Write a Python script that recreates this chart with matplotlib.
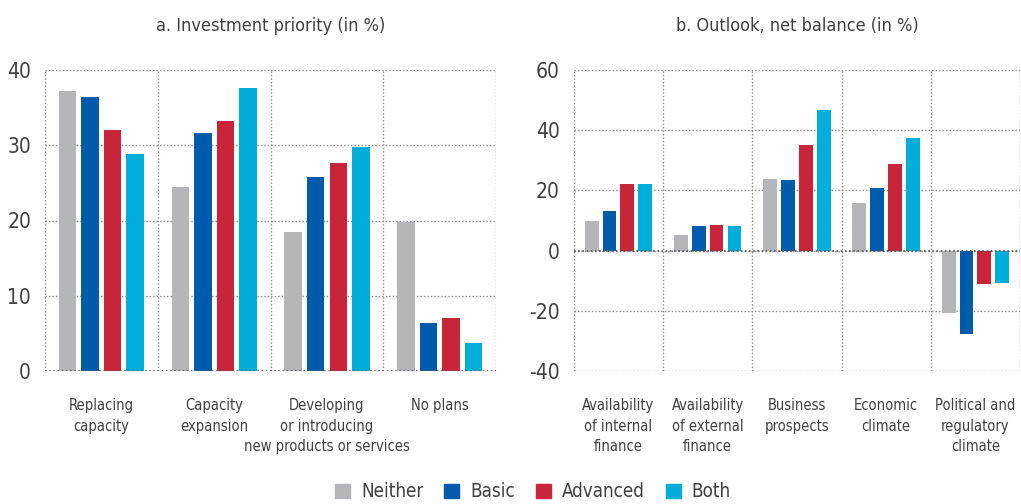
import matplotlib
matplotlib.use('Agg')
import matplotlib.pyplot as plt
from matplotlib.patches import Patch
import numpy as np

plt.rcParams['font.family'] = ['DejaVu Sans']
plt.rcParams['font.stretch'] = 'condensed'
plt.rcParams['axes.unicode_minus'] = False

series = ['Neither', 'Basic', 'Advanced', 'Both']
colors = ['#B5B6BA', '#005BAC', '#C8243A', '#00AED9']

# panel a
cats_a = ['Replacing\ncapacity', 'Capacity\nexpansion',
          'Developing\nor introducing\nnew products or services', 'No plans']
neither_a = [37.3, 24.5, 18.5, 19.8]
basic_a = [36.4, 31.6, 25.8, 6.4]
advanced_a = [32.1, 33.2, 27.7, 7.0]
both_a = [28.8, 37.7, 29.8, 3.7]

# panel b
cats_b = ['Availability\nof internal\nfinance', 'Availability\nof external\nfinance',
          'Business\nprospects', 'Economic\nclimate', 'Political and\nregulatory\nclimate']
neither_b = [9.8, 5.1, 23.8, 15.8, -20.9]
basic_b = [13.1, 8.1, 23.4, 20.8, -27.9]
advanced_b = [22.1, 8.4, 35.1, 28.8, -11.2]
both_b = [22.1, 8.1, 46.8, 37.4, -10.9]

txt = '#404040'
gridc = '#8a8a8a'

fig = plt.figure(figsize=(10.21, 5.04), dpi=100)
ax1 = fig.add_axes([0.044, 0.2645, 0.442, 0.596])
ax2 = fig.add_axes([0.562, 0.2645, 0.437, 0.596])


def draw(ax, cats, vals, ylim, yticks, title):
    x = np.arange(len(cats))
    step = 0.2
    w = 0.155
    for i, v in enumerate(vals):
        ax.bar(x + (i - 1.5) * step, v, w, color=colors[i], zorder=3)
    ax.set_xlim(-0.5, len(cats) - 0.5)
    ax.set_ylim(*ylim)
    ax.set_yticks(yticks)
    ax.set_xticks(x)
    ax.set_xticklabels(cats, fontsize=10.5, color=txt, linespacing=1.45)
    ax.tick_params(axis='both', length=0, colors=txt)
    ax.tick_params(axis='y', labelsize=15, pad=10)
    ax.tick_params(axis='x', pad=20)
    for s in ax.spines.values():
        s.set_visible(False)
    for yv in yticks:
        ax.axhline(yv, color=gridc, lw=1, ls=(0, (1, 1.5)), zorder=1)
    for xv in np.arange(len(cats) + 1) - 0.5:
        ax.axvline(xv, color=gridc, lw=1, ls=(0, (1, 1.5)), zorder=1)
    ax.axhline(0, color='#555555', lw=1.2, ls=(0, (1, 1.5)), zorder=4)
    ax.set_title(title, fontsize=13, color=txt, pad=28)


draw(ax1, cats_a, [neither_a, basic_a, advanced_a, both_a], (0, 40),
     [0, 10, 20, 30, 40], 'a. Investment priority (in %)')
draw(ax2, cats_b, [neither_b, basic_b, advanced_b, both_b], (-40, 60),
     [-40, -20, 0, 20, 40, 60], 'b. Outlook, net balance (in %)')

handles = [Patch(color=c, label=s) for c, s in zip(colors, series)]
fig.legend(handles=handles, loc='lower center', ncol=4, frameon=False,
           fontsize=13.5, labelcolor=txt, bbox_to_anchor=(0.522, -0.028),
           handlelength=0.8, handleheight=0.8, columnspacing=1.1, handletextpad=0.6)

fig.savefig('out.png', dpi=100)
